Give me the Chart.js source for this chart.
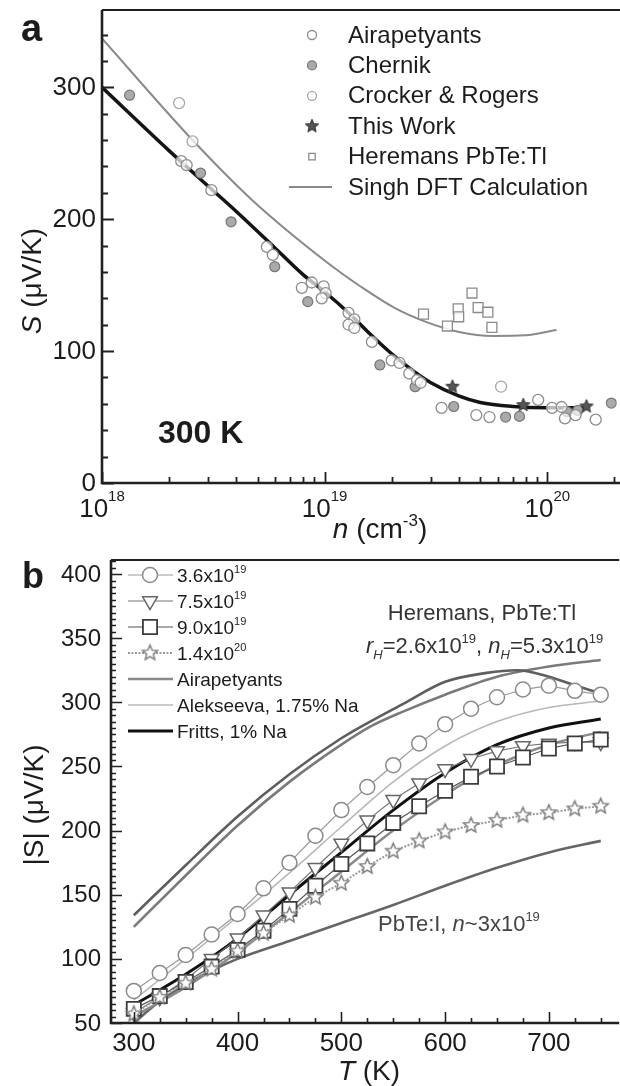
<!DOCTYPE html>
<html><head><meta charset="utf-8"><title>PbTe Seebeck coefficient</title>
<script src="https://cdn.jsdelivr.net/npm/chart.js"></script>
<style>
html,body{margin:0;padding:0;background:#fff;}
body{width:620px;height:1086px;overflow:hidden;position:relative;}
.w{position:absolute;left:0;width:625px;}
#wa{top:0;height:545px;}
#wb{top:545px;height:541px;}
</style></head><body>
<div class="w" id="wa"><canvas id="ca"></canvas></div>
<div class="w" id="wb"><canvas id="cb"></canvas></div>
<script>
// ================= Panel a data (n in cm^-3, S in uV/K) =================
const airN = [2.27e18,2.4e18,3.1e18,5.5e18,5.85e18,7.9e18,8.75e18,9.9e18,1.01e19,9.7e18,1.28e19,1.36e19,1.28e19,1.36e19,1.63e19,2.0e19,2.17e19,2.4e19,2.6e19,2.7e19,3.35e19,4.8e19,5.5e19,9.1e19,1.05e20,1.16e20,1.2e20,1.34e20,1.65e20];
const airS = [244,241,222,179,173,148,152,149,144,140,129,124,120,117.5,107,93,91,83,78,76,57,51.5,50,63,57,57.6,49,51.5,48];
const cheN = [1.33e18,2.77e18,3.8e18,5.97e18,8.4e18,1.77e19,2.55e19,3.8e19,6.5e19,7.5e19,1.23e20,1.37e20,1.94e20];
const cheS = [294,235,198,164,137.5,89.5,73,58,50,50.5,54,55,60.6];
const croN = [2.22e18,2.55e18,6.2e19];
const croS = [288,259,73];
const twN = [3.75e19,7.8e19,1.5e20];
const twS = [73,59,58];
const herN = [2.78e19,3.56e19,3.98e19,4.0e19,4.59e19,4.89e19,5.41e19,5.64e19];
const herS = [128,119,132,126,144,133,129.5,118];
const singhN = [1e18,2.55e18,4.69e18,1.03e19,1.45e19,2.05e19,2.87e19,4.02e19,5.7e19,8e19,1.1e20];
const singhS = [337,260,215,167,149,133,122,114.5,111.5,112,116];
const fitN = [1e18,2e18,3e18,4e18,6e18,8e18,1e19,1.3e19,1.6e19,2e19,2.5e19,3e19,4e19,5e19,7e19,1e20,1.5e20];
const fitS = [300,252,225,206,178,158,145,128,113,98,85,76,66,61,58,57,57];
const aYTicks = [0,100,200,300];
const aXDecades = [18,19,20];

// ================= Panel b data (T in K, |S| in uV/K) =================
const bT = [300,325,350,375,400,425,450,475,500,525,550,575,600,625,650,675,700,725,750];
const s36 = [75,89,103,119,135,155,175,196,216,234,251,268,283,295,304,310,313,309,306];
const s75 = [58,70,84,100,116,134,152,171,190,208,224,237,248,256,262,266,268,269,269];
const s90 = [61,71,82,94,107,122,139,157,174,190,206,219,231,242,250,257,264,268,271];
const s140 = [57,70,81,92,106,120,134,148,159,172,184,192,199,204,208,212,214,217,219];
const lineT = [300,350,400,450,500,550,600,650,700,750];
const airB = [55,78,105,136,168,200,228,251,267,277];
const alekB = [68,100,133,167,203,238,266,285,296,301];
const frittsB = [64,88,116,150,183,216,245,267,280,287];
const herRT = [300,350,400,450,500,530,560,600,640,670,700,730,750];
const herRS = [134,173,211,244,272,286,299,316,323,325,320,312,307];
const herNT = [300,350,400,450,500,530,560,600,650,700,750];
const herNS = [125,165,204,238,267,282,293,306,320,328,333];
const iT = [300,325,350,375,400,450,500,550,600,650,700,750];
const iS = [50,67,80,91,100,114,128,142,157,171,183,192];
const bXTicks = [300,400,500,600,700];
const bYTicks = [50,100,150,200,250,300,350,400];

// ================= helpers =================
const FAM = '"Liberation Sans", Arial, Helvetica, sans-serif';
const TXT = '#1c1c1c';
const AX = '#202020';
const F = (size, style) => (style ? style + ' ' : '') + size + 'px ' + FAM;
const toXY = (xs, ys) => xs.map((x, i) => ({x: x, y: ys[i]}));

function richWidth(ctx, parts){ let w = 0; for (const p of parts){ ctx.font = p.f; w += ctx.measureText(p.t).width; } return w; }
function drawRich(ctx, parts, x, y, align, color){
  const w = richWidth(ctx, parts);
  let cx = align === 'center' ? x - w/2 : (align === 'right' ? x - w : x);
  ctx.textAlign = 'left'; ctx.textBaseline = 'alphabetic';
  for (const p of parts){ ctx.font = p.f; ctx.fillStyle = p.c || color || TXT; ctx.fillText(p.t, cx, y + (p.dy || 0)); cx += ctx.measureText(p.t).width; }
}
function labelParts(label, size, supSize){
  const i = label.indexOf('^');
  if (i < 0) return [{t: label, f: F(size)}];
  return [{t: label.slice(0, i), f: F(size)}, {t: label.slice(i+1), f: F(supSize), dy: -size*0.45}];
}
function makeStar(r, fill, stroke, lw){
  const s = Math.ceil(2*r + 2*lw + 2);
  const c = document.createElement('canvas'); c.width = s; c.height = s;
  const g = c.getContext('2d');
  g.beginPath();
  for (let k = 0; k < 10; k++){
    const ang = -Math.PI/2 + k*Math.PI/5; const rr = (k % 2) ? r*0.45 : r;
    g.lineTo(s/2 + rr*Math.cos(ang), s/2 + rr*Math.sin(ang));
  }
  g.closePath(); g.fillStyle = fill; g.fill(); g.strokeStyle = stroke; g.lineWidth = lw; g.stroke();
  return c;
}
function drawMarker(ctx, ds, x, y, rOverride){
  const st = ds.pointStyle;
  ctx.save();
  ctx.fillStyle = ds.pointBackgroundColor || ds.backgroundColor || '#fff';
  ctx.strokeStyle = ds.pointBorderColor || ds.borderColor;
  ctx.lineWidth = ds.pointBorderWidth != null ? ds.pointBorderWidth : 1;
  if (st && typeof st === 'object'){
    ctx.drawImage(st, x - st.width/2, y - st.height/2);
  } else if (Chart.helpers && Chart.helpers.drawPoint){
    Chart.helpers.drawPoint(ctx, {pointStyle: st, radius: rOverride || ds.pointRadius, rotation: ds.pointRotation || 0, borderWidth: ctx.lineWidth}, x, y);
  } else {
    ctx.beginPath(); ctx.arc(x, y, rOverride || ds.pointRadius, 0, Math.PI*2); ctx.fill(); ctx.stroke();
  }
  ctx.restore();
}
function drawLegendLine(ctx, ds, x0, x1, y){
  ctx.save();
  ctx.strokeStyle = ds.borderColor; ctx.lineWidth = ds.borderWidth;
  ctx.setLineDash(ds.borderDash || []);
  ctx.beginPath(); ctx.moveTo(x0, y); ctx.lineTo(x1, y); ctx.stroke();
  ctx.restore();
}

const starDark = makeStar(7, '#555', '#333', 1);
const starOpen = makeStar(8, '#fff', '#7a7a7a', 1.4);

// ================= Panel a =================
const panelA = {
  id: 'panelA',
  afterDatasetsDraw(chart){
    const {ctx, chartArea: a, scales: {x, y}} = chart;
    ctx.save();
    ctx.strokeStyle = AX;
    ctx.lineWidth = 1.8;
    ctx.beginPath();
    for (let v = 0; v <= y.max; v += 20){
      const py = Math.round(y.getPixelForValue(v)) + 0.5; const L = (v % 100 === 0) ? 12 : 6;
      ctx.moveTo(a.left, py); ctx.lineTo(a.left + L, py);
    }
    for (const e of aXDecades){
      for (let m = 1; m <= 9; m++){
        const v = m*Math.pow(10, e); if (v > x.max) break;
        const px = Math.round(x.getPixelForValue(v)) + 0.5; const L = m === 1 ? 11 : 6;
        ctx.moveTo(px, a.bottom); ctx.lineTo(px, a.bottom - L);
      }
    }
    ctx.stroke();
    ctx.lineWidth = 2.6;
    ctx.beginPath(); ctx.moveTo(a.left, a.top); ctx.lineTo(a.left, a.bottom); ctx.lineTo(a.right + 6, a.bottom); ctx.stroke();
    ctx.lineWidth = 2;
    ctx.beginPath(); ctx.moveTo(a.left, a.top); ctx.lineTo(a.right + 6, a.top); ctx.stroke();

    // tick labels
    ctx.fillStyle = TXT; ctx.font = F(26); ctx.textAlign = 'right'; ctx.textBaseline = 'middle';
    for (const v of aYTicks) ctx.fillText(String(v), a.left - 6, y.getPixelForValue(v) + 1);
    for (const e of aXDecades){
      const px = x.getPixelForValue(Math.pow(10, e));
      drawRich(ctx, [{t: '10', f: F(26)}, {t: String(e), f: F(15), dy: -16}], px, 517, 'center');
    }
    // axis titles
    drawRich(ctx, [{t: 'n', f: F(28, 'italic')}, {t: ' (cm', f: F(28)}, {t: '-3', f: F(17), dy: -12}, {t: ')', f: F(28)}], 380, 538, 'center');
    ctx.save(); ctx.translate(31, 281); ctx.rotate(-Math.PI/2);
    drawRich(ctx, [{t: 'S', f: F(28, 'italic')}, {t: ' (\u03bcV/K)', f: F(28)}], 0, 10, 'center');
    ctx.restore();
    // panel letter and temperature label
    drawRich(ctx, [{t: 'a', f: F(38, 'bold')}], 21, 41, 'left');
    drawRich(ctx, [{t: '300 K', f: F(32, 'bold')}], 158, 443, 'left');

    // legend
    const order = ['Airapetyants', 'Chernik', 'Crocker & Rogers', 'This Work', 'Heremans PbTe:Tl', 'Singh DFT Calculation'];
    order.forEach((lab, i) => {
      const ds = chart.data.datasets.find(d => d.label === lab);
      const ly = 35 + i*30.4;
      if (ds.pointRadius === 0) drawLegendLine(ctx, ds, 289, 332, ly);
      else drawMarker(ctx, ds, 312, ly, 4.5);
      ctx.fillStyle = TXT; ctx.font = F(24); ctx.textAlign = 'left'; ctx.textBaseline = 'middle';
      ctx.fillText(lab, 348, ly + 1);
    });
    ctx.restore();
  }
};

new Chart(document.getElementById('ca'), {
  type: 'scatter',
  data: {datasets: [
    {label: 'This Work', data: toXY(twN, twS), pointStyle: starDark, pointRadius: 7, borderColor: '#333', backgroundColor: '#555'},
    {label: 'Heremans PbTe:Tl', data: toXY(herN, herS), pointStyle: 'rect', pointRadius: 7, pointBorderColor: '#8a8a8a', pointBackgroundColor: 'rgba(255,255,255,0.85)', pointBorderWidth: 1.3, borderColor: '#8a8a8a'},
    {label: 'Crocker & Rogers', data: toXY(croN, croS), pointStyle: 'circle', pointRadius: 5.5, pointBorderColor: '#a8a8a8', pointBackgroundColor: 'rgba(255,255,255,0.7)', pointBorderWidth: 1.3, borderColor: '#a8a8a8'},
    {label: 'Airapetyants', data: toXY(airN, airS), pointStyle: 'circle', pointRadius: 5.5, pointBorderColor: '#8c8c8c', pointBackgroundColor: 'rgba(255,255,255,0.7)', pointBorderWidth: 1.3, borderColor: '#8c8c8c'},
    {label: 'Chernik', data: toXY(cheN, cheS), pointStyle: 'circle', pointRadius: 5, pointBorderColor: '#777', pointBackgroundColor: '#aaa', pointBorderWidth: 1.2, borderColor: '#777'},
    {label: 'Singh DFT Calculation', data: toXY(singhN, singhS), showLine: true, pointRadius: 0, borderColor: '#8a8a8a', borderWidth: 2, cubicInterpolationMode: 'monotone'},
    {label: 'fit', data: toXY(fitN, fitS), showLine: true, pointRadius: 0, borderColor: '#141414', borderWidth: 3.5, cubicInterpolationMode: 'monotone'}
  ]},
  options: {
    responsive: true, maintainAspectRatio: false, animation: false, devicePixelRatio: 1,
    layout: {padding: {left: 0, right: 3, top: 10, bottom: 0}},
    plugins: {legend: {display: false}, tooltip: {enabled: false}},
    scales: {
      x: {type: 'logarithmic', min: 1e18, max: 2.05e20, grid: {display: false}, border: {display: false}, ticks: {display: false}, afterFit(s){ s.height = 62; }},
      y: {type: 'linear', min: 0, max: 358.6, grid: {display: false}, border: {display: false}, ticks: {display: false}, afterFit(s){ s.width = 102; }}
    }
  },
  plugins: [panelA]
});

// ================= Panel b =================
const OFF = 545;
const panelB = {
  id: 'panelB',
  afterDatasetsDraw(chart){
    const {ctx, chartArea: a, scales: {x, y}} = chart;
    ctx.save();
    ctx.strokeStyle = AX;
    ctx.lineWidth = 1.6;
    ctx.beginPath();
    for (let v = 50; v <= y.max; v += 5){
      const py = Math.round(y.getPixelForValue(v)) + 0.5; const L = (v % 50 === 0) ? 11 : 5;
      ctx.moveTo(a.left, py); ctx.lineTo(a.left + L, py);
    }
    for (let v = 300; v <= x.max; v += 25){
      const px = Math.round(x.getPixelForValue(v)) + 0.5; const L = (v % 100 === 0) ? 11 : 5;
      ctx.moveTo(px, a.bottom); ctx.lineTo(px, a.bottom - L);
    }
    ctx.stroke();
    ctx.lineWidth = 2.6;
    ctx.beginPath(); ctx.moveTo(a.left, a.top); ctx.lineTo(a.left, a.bottom); ctx.lineTo(a.right + 6, a.bottom); ctx.stroke();
    ctx.lineWidth = 2;
    ctx.beginPath(); ctx.moveTo(a.left, a.top); ctx.lineTo(a.right + 6, a.top); ctx.stroke();

    ctx.fillStyle = TXT; ctx.font = F(24); ctx.textAlign = 'right'; ctx.textBaseline = 'middle';
    for (const v of bYTicks) ctx.fillText(String(v), a.left - 10, y.getPixelForValue(v) + 1);
    ctx.textAlign = 'center'; ctx.font = F(26);
    for (const v of bXTicks) ctx.fillText(String(v), x.getPixelForValue(v), 1044 - OFF);

    drawRich(ctx, [{t: 'T', f: F(28, 'italic')}, {t: ' (K)', f: F(28)}], 369, 1080 - OFF, 'center');
    ctx.save(); ctx.translate(33, 805 - OFF); ctx.rotate(-Math.PI/2);
    drawRich(ctx, [{t: '|S|', f: F(28)}, {t: ' (\u03bcV/K)', f: F(28)}], 0, 10, 'center');
    ctx.restore();
    drawRich(ctx, [{t: 'b', f: F(36, 'bold')}], 22, 588 - OFF, 'left');

    // annotations
    drawRich(ctx, [{t: 'Heremans, PbTe:Tl', f: F(22)}], 482, 620 - OFF, 'center', '#333');
    drawRich(ctx, [
      {t: 'r', f: F(22, 'italic')}, {t: 'H', f: F(13, 'italic'), dy: 6},
      {t: '=2.6x10', f: F(22)}, {t: '19', f: F(13), dy: -10},
      {t: ', ', f: F(22)},
      {t: 'n', f: F(22, 'italic')}, {t: 'H', f: F(13, 'italic'), dy: 6},
      {t: '=5.3x10', f: F(22)}, {t: '19', f: F(13), dy: -10}
    ], 366, 653 - OFF, 'left', '#333');
    drawRich(ctx, [{t: 'PbTe:I, ', f: F(22)}, {t: 'n', f: F(22, 'italic')}, {t: '~3x10', f: F(22)}, {t: '19', f: F(13), dy: -10}], 378, 931 - OFF, 'left', '#444');

    // legend
    const order = ['3.6x10^19', '7.5x10^19', '9.0x10^19', '1.4x10^20', 'Airapetyants', 'Alekseeva, 1.75% Na', 'Fritts, 1% Na'];
    order.forEach((lab, i) => {
      const ds = chart.data.datasets.find(d => d.label === lab);
      const ly = 575 + i*26 - OFF;
      drawLegendLine(ctx, ds, 128, 173, ly);
      if (ds.pointRadius > 0) drawMarker(ctx, ds, 150, ly);
      drawRich(ctx, labelParts(lab, 19, 11), 177, ly + 7, 'left');
    });
    ctx.restore();
  }
};

const mk = (lab, ys, style, r, pcol, lcol, lw, extra) => Object.assign({
  label: lab, data: toXY(bT, ys), showLine: true, borderColor: lcol, borderWidth: lw,
  pointStyle: style, pointRadius: r, pointBorderColor: pcol, pointBackgroundColor: '#fff', pointBorderWidth: 1.5
}, extra || {});
const ln = (lab, xs, ys, col, lw) => ({label: lab, data: toXY(xs, ys), showLine: true, pointRadius: 0, borderColor: col, borderWidth: lw, cubicInterpolationMode: 'monotone'});

new Chart(document.getElementById('cb'), {
  type: 'scatter',
  data: {datasets: [
    mk('1.4x10^20', s140, starOpen, 8, '#7a7a7a', '#9a9a9a', 2, {borderDash: [2, 1.5]}),
    mk('9.0x10^19', s90, 'rect', 10, '#3c3c3c', '#555', 1.2, {pointBorderWidth: 1.8}),
    mk('7.5x10^19', s75, 'triangle', 8.5, '#666', '#777', 1.2, {pointRotation: 180}),
    mk('3.6x10^19', s36, 'circle', 7.5, '#8a8a8a', '#9a9a9a', 1.2),
    ln('Fritts, 1% Na', lineT, frittsB, '#111', 3),
    ln('Alekseeva, 1.75% Na', lineT, alekB, '#b8b8b8', 1.6),
    ln('Airapetyants', lineT, airB, '#8a8a8a', 2.5),
    ln('Heremans rH', herRT, herRS, '#5e5e5e', 2.6),
    ln('Heremans nH', herNT, herNS, '#7a7a7a', 2.6),
    ln('PbTe:I', iT, iS, '#666', 2.6)
  ]},
  options: {
    responsive: true, maintainAspectRatio: false, animation: false, devicePixelRatio: 1,
    layout: {padding: {left: 0, right: 3, top: 15, bottom: 0}},
    plugins: {legend: {display: false}, tooltip: {enabled: false}},
    scales: {
      x: {type: 'linear', min: 278, max: 762, grid: {display: false}, border: {display: false}, ticks: {display: false}, afterFit(s){ s.height = 63; }},
      y: {type: 'linear', min: 50, max: 411, grid: {display: false}, border: {display: false}, ticks: {display: false}, afterFit(s){ s.width = 111; }}
    }
  },
  plugins: [panelB]
});
</script></body></html>
